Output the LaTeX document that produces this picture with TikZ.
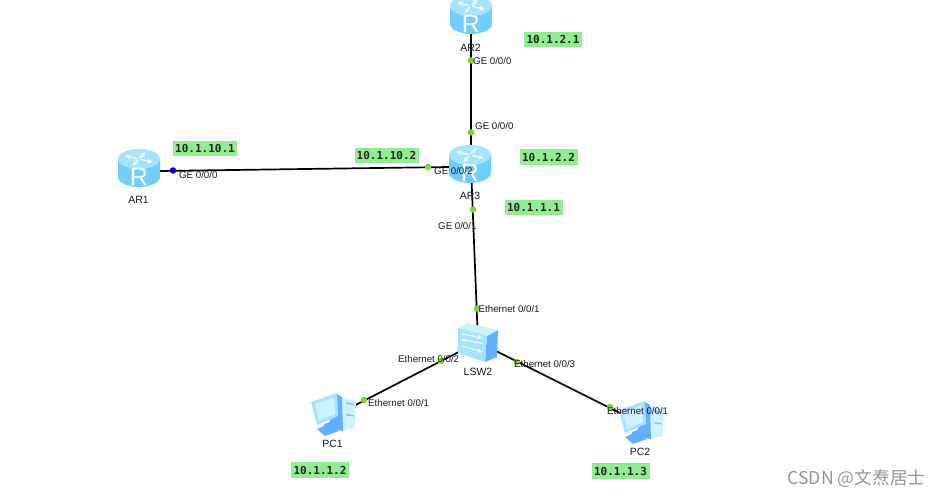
\documentclass[tikz,border=0pt]{standalone}
\usepackage{fontspec}
\setmainfont{Liberation Sans}
\newfontfamily\ipfont{DejaVu Sans Mono}
\newfontfamily\cjkfont{Noto Sans CJK SC}
\definecolor{ipgreen}{RGB}{144,238,144}
\definecolor{portgreen}{RGB}{124,214,50}
\definecolor{rbody}{RGB}{112,206,255}
\definecolor{rtop}{RGB}{165,228,255}
\definecolor{dblue}{RGB}{98,174,255}
\definecolor{lblue}{RGB}{205,243,255}
\definecolor{txt}{RGB}{25,25,35}
\tikzset{
  x=1pt,y=-1pt,
  link/.style={draw=black,line width=1.7pt},
  port/.style={circle,fill=portgreen,draw=none,minimum size=6.5pt,inner sep=0pt},
  portblue/.style={circle,fill=blue!90!black,draw=none,minimum size=6.5pt,inner sep=0pt},
  iflabel/.style={anchor=west,inner sep=0pt,font=\fontsize{9.7}{11}\selectfont,text=txt},
  devlabel/.style={inner sep=0pt,font=\fontsize{10.5}{12}\selectfont,text=txt},
  iplabel/.style={fill=ipgreen,inner sep=0pt,minimum height=15.5pt,text=black!85,
    font=\ipfont\bfseries\fontsize{11}{13}\selectfont},
  pics/router/.style={code={
    \path[fill=rbody] (-21,-9) -- (-21,9) .. controls (-21,15) and (-10,19) .. (0,19)
      .. controls (10,19) and (21,15) .. (21,9) -- (21,-9) -- cycle;
    \path[fill=rtop] (0,-9) ellipse [x radius=21,y radius=10];
    \foreach \a in {25,115,205,295}{
      \draw[white,line width=1.3pt,-stealth] (\a:2 and 1) ++(0,-9) -- ++(\a:13 and 6.5);
    }
    \node[text=white,inner sep=0pt,font=\fontsize{25}{25}\selectfont] at (0,9) {R};
  }},
  pics/pc/.style={code={
    \path[fill=lblue] (41,12) -- (56,16) -- (55,43) -- (41,46) -- cycle;
    \path[fill=dblue] (37,9) -- (42,12) -- (43,46) -- (28,43) -- cycle;
    \path[fill=rbody] (46,17) -- (54,19) -- (54,20.5) -- (46,18.5) -- cycle;
    \path[fill=rbody] (46,29) -- (54,30) -- (54,31.5) -- (46,30.5) -- cycle;
    \path[fill=rtop] (11,17) -- (37,8) -- (38,31) -- (17,40) -- cycle;
    \path[fill=lblue] (15,19) -- (34,12.5) -- (35,29) -- (19,36) -- cycle;
    \path[fill=dblue] (17,44) -- (24,41) -- (24,39) -- (30,37) -- (31,42) -- (39,46) -- (25,51) -- cycle;
  }},
  pics/switchbox/.style={code={
    \path[fill=dblue] (37,18) -- (48,12) -- (47,39) -- (35,44) -- cycle;
    \path[fill=lblue] (8,10) -- (17,5) -- (48,12) -- (37,18) -- cycle;
    \path[fill=rtop] (8,10) -- (37,18) -- (35,44) -- (8,35) -- cycle;
    \draw[white,line width=1pt,-stealth] (12,16) -- (32,20);
    \draw[white,line width=1pt,-stealth] (32,25.5) -- (12,21.5);
    \draw[white,line width=1pt,-stealth] (12,28) -- (32,34);
  }}
}
\begin{document}
\begin{tikzpicture}
\path[use as bounding box,fill=white] (0,0) rectangle (940,497);
\clip (0,0) rectangle (940,497);
% connection points of the devices
\coordinate (ar1) at (139,171.3);
\coordinate (ar2) at (471,15);
\coordinate (ar3) at (471,166.7);
\coordinate (lsw) at (478,342);
\coordinate (pc1) at (345,410.5);
\coordinate (pc2) at (630,418);
% connectors
\draw[link] (ar1) -- (ar3);
\draw[link] (ar2) -- (ar3);
\draw[link] (ar3) -- (lsw);
\draw[link] (lsw) -- (pc1);
\draw[link] (lsw) -- (pc2);
% devices
\pic at (139,168) {router};
\pic at (471,15) {router};
\pic at (470,164) {router};
\pic at (450,318) {switchbox};
\pic at (300,385) {pc};
\pic at (608,393) {pc};
% ports
\node[portblue] (p1) at (173,170.5) {};
\node[port] (p2) at (428,167) {};
\node[port] (p3) at (471,60.5) {};
\node[port] (p4) at (471,132.5) {};
\node[port] (p5) at (473,209.5) {};
\node[port] (p6) at (477,308.5) {};
\node[port] (p7) at (441,361) {};
\node[port] (p8) at (364,400) {};
\node[port] (p9) at (517,362) {};
\node[port] (p10) at (610,407) {};
% device labels
\node[devlabel] (lar1) at (138.5,200) {AR1};
\node[devlabel] (lar2) at (470.5,47.5) {AR2};
\node[devlabel] (lar3) at (470,196) {AR3};
\node[devlabel] (llsw) at (478,372) {LSW2};
\node[devlabel] (lpc1) at (332.5,444) {PC1};
\node[devlabel] (lpc2) at (640,452) {PC2};
% interface labels
\node[iflabel] (i1) at (179,175) {GE 0/0/0};
\node[iflabel] (i2) at (473,61) {GE 0/0/0};
\node[iflabel] (i3) at (475,126) {GE 0/0/0};
\node[iflabel] (i4) at (434,171.5) {GE 0/0/2};
\node[iflabel] (i5) at (438,226.5) {GE 0/0/1};
\node[iflabel] (i6) at (478.5,309.5) {Ethernet 0/0/1};
\node[iflabel] (i7) at (398,359.5) {Ethernet 0/0/2};
\node[iflabel] (i8) at (514,364.5) {Ethernet 0/0/3};
\node[iflabel] (i9) at (368,403) {Ethernet 0/0/1};
\node[iflabel] (i10) at (607,411) {Ethernet 0/0/1};
% addresses
\node[iplabel,minimum width=64pt] (a1) at (205,148.5) {10.1.10.1};
\node[iplabel,minimum width=64pt] (a2) at (386.5,155.5) {10.1.10.2};
\node[iplabel,minimum width=58pt] (a3) at (553,39.5) {10.1.2.1};
\node[iplabel,minimum width=58pt] (a4) at (548.5,157) {10.1.2.2};
\node[iplabel,minimum width=58pt] (a5) at (533.5,207.5) {10.1.1.1};
\node[iplabel,minimum width=58pt] (a6) at (320,470) {10.1.1.2};
\node[iplabel,minimum width=58pt] (a7) at (620.5,471) {10.1.1.3};
% watermark
\node[inner sep=0pt,text=black!42,font=\cjkfont\fontsize{17.7}{20}\selectfont] (wm) at (856.5,479) {CSDN @文焘居士};
\end{tikzpicture}
\end{document}
